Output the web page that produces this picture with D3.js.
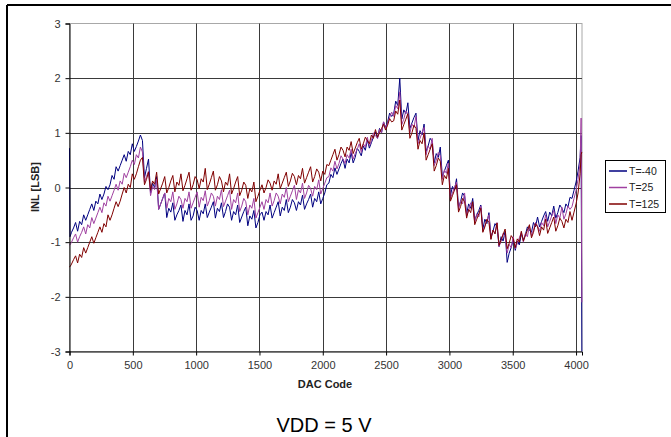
<!DOCTYPE html>
<html><head><meta charset="utf-8">
<script src="https://cdn.jsdelivr.net/npm/d3@7"></script>
<style>body{margin:0;background:#fff}svg{display:block}text{font-family:"Liberation Sans",Arial,sans-serif}</style>
</head><body><svg id="c" width="671" height="437"></svg>
<script>
const codes = [0,4,16,32,48,64,80,96,112,128,144,160,176,192,208,224,240,256,272,288,304,320,336,352,368,384,400,416,432,448,464,480,496,512,528,544,560,576,592,608,624,640,656,672,688,704,720,736,752,768,784,800,816,832,848,864,880,896,912,928,944,960,976,992,1008,1024,1040,1056,1072,1088,1104,1120,1136,1152,1168,1184,1200,1216,1232,1248,1264,1280,1296,1312,1328,1344,1360,1376,1392,1408,1424,1440,1456,1472,1488,1504,1520,1536,1552,1568,1584,1600,1616,1632,1648,1664,1680,1696,1712,1728,1744,1760,1776,1792,1808,1824,1840,1856,1872,1888,1904,1920,1936,1952,1968,1984,2000,2016,2032,2048,2064,2080,2096,2112,2128,2144,2160,2176,2192,2208,2224,2240,2256,2272,2288,2304,2320,2336,2352,2368,2384,2400,2416,2432,2448,2464,2480,2496,2512,2528,2544,2560,2576,2592,2608,2624,2640,2656,2672,2688,2704,2720,2736,2752,2768,2784,2800,2816,2832,2848,2864,2880,2896,2912,2928,2944,2960,2976,2992,3008,3024,3040,3056,3072,3088,3104,3120,3136,3152,3168,3184,3200,3216,3232,3248,3264,3280,3296,3312,3328,3344,3360,3376,3392,3408,3424,3440,3456,3472,3488,3504,3520,3536,3552,3568,3584,3600,3616,3632,3648,3664,3680,3696,3712,3728,3744,3760,3776,3792,3808,3824,3840,3856,3872,3888,3904,3920,3936,3952,3968,3984,4000,4016,4032,4040,4046];
const tMinus40 = [0.72,-0.9,
-0.82,-0.74,-0.64,
-0.8,-0.62,-0.68,-0.5,
-0.6,-0.5,-0.4,-0.3,
-0.42,-0.25,-0.3,-0.12,
-0.22,-0.12,0.02,-0.04,
0.05,0.22,0.15,0.38,
0.3,0.4,0.5,0.6,
0.48,0.66,0.6,0.8,
0.66,0.75,0.85,0.96,
0.86,0.18,0.35,0.52,
-0.1,0.08,0.0,0.2,
-0.4,-0.3,-0.2,-0.1,
-0.55,-0.38,-0.45,-0.28,
-0.6,-0.5,-0.42,-0.32,
-0.62,-0.42,-0.5,-0.3,
-0.6,-0.52,-0.36,-0.42,
-0.6,-0.42,-0.48,-0.3,
-0.55,-0.45,-0.36,-0.26,
-0.56,-0.38,-0.44,-0.28,
-0.55,-0.44,-0.3,-0.36,
-0.6,-0.44,-0.5,-0.32,
-0.64,-0.54,-0.44,-0.36,
-0.7,-0.52,-0.58,-0.42,
-0.74,-0.64,-0.5,-0.45,
-0.6,-0.44,-0.5,-0.32,
-0.56,-0.46,-0.36,-0.26,
-0.52,-0.36,-0.42,-0.22,
-0.46,-0.36,-0.22,-0.28,
-0.42,-0.26,-0.32,-0.14,
-0.4,-0.3,-0.22,-0.12,
-0.36,-0.2,-0.26,-0.08,
-0.3,-0.2,-0.1,0.05,
0.08,0.24,0.18,0.36,
0.24,0.34,0.44,0.52,
0.35,0.52,0.45,0.64,
0.45,0.55,0.72,0.66,
0.58,0.76,0.68,0.87,
0.72,0.82,0.92,1.02,
0.9,1.08,1.0,1.2,
1.1,1.2,1.36,1.3,
1.35,1.58,1.5,2.0,
1.25,1.42,1.35,1.55,
1.08,1.18,1.28,1.36,
0.86,1.04,0.96,1.16,
0.66,0.76,0.9,0.84,
0.45,0.62,0.55,0.74,
0.2,0.3,0.4,0.5,
-0.15,0.02,-0.05,0.16,
-0.36,-0.26,-0.1,-0.16,
-0.48,-0.3,-0.38,-0.2,
-0.6,-0.5,-0.42,-0.32,
-0.76,-0.58,-0.66,-0.46,
-0.9,-0.8,-0.66,-0.72,
-1.08,-0.9,-0.98,-0.8,
-1.37,-1.2,-1.1,-0.95,
-1.15,-0.98,-1.05,-0.85,
-0.96,-0.86,-0.72,-0.78,
-0.82,-0.64,-0.72,-0.54,
-0.72,-0.62,-0.52,-0.44,
-0.62,-0.45,-0.52,-0.34,
-0.56,-0.46,-0.32,-0.38,
-0.46,-0.3,-0.36,-0.18,
-0.2,-0.05,0.1,0.3,
0.55,0.95,-3.0];
const t25 = [-1.05,-1.05,
-1.0,-0.92,-0.85,
-1.0,-0.9,-0.82,-0.72,
-0.85,-0.68,-0.74,-0.55,
-0.66,-0.56,-0.46,-0.36,
-0.46,-0.28,-0.34,-0.16,
-0.25,-0.15,-0.05,0.06,
-0.05,0.12,0.06,0.26,
0.18,0.28,0.38,0.5,
0.42,0.6,0.54,0.74,
0.65,0.1,0.2,0.3,
-0.15,0.02,-0.04,0.15,
-0.4,-0.3,-0.2,-0.1,
-0.38,-0.2,-0.26,-0.08,
-0.4,-0.3,-0.16,-0.22,
-0.38,-0.2,-0.26,-0.08,
-0.38,-0.28,-0.18,-0.08,
-0.36,-0.18,-0.24,-0.06,
-0.34,-0.24,-0.1,-0.16,
-0.34,-0.16,-0.22,-0.04,
-0.35,-0.25,-0.15,-0.05,
-0.4,-0.22,-0.28,-0.1,
-0.44,-0.34,-0.2,-0.26,
-0.5,-0.32,-0.38,-0.2,
-0.56,-0.46,-0.36,-0.26,
-0.4,-0.22,-0.28,-0.1,
-0.34,-0.24,-0.1,-0.16,
-0.3,-0.12,-0.18,0.0,
-0.26,-0.16,-0.06,0.04,
-0.22,-0.04,-0.1,0.08,
-0.2,-0.1,0.04,-0.02,
-0.16,0.02,-0.04,0.14,
-0.12,-0.02,0.08,0.18,
0.2,0.36,0.3,0.48,
0.34,0.44,0.58,0.52,
0.44,0.6,0.54,0.7,
0.52,0.62,0.7,0.8,
0.64,0.8,0.74,0.92,
0.76,0.86,1.0,0.95,
0.9,1.06,1.0,1.2,
1.08,1.18,1.28,1.38,
1.3,1.5,1.44,1.75,
1.15,1.25,1.4,1.35,
1.0,1.16,1.1,1.3,
0.8,0.9,1.0,1.1,
0.6,0.76,0.7,0.9,
0.4,0.5,0.64,0.58,
0.15,0.32,0.26,0.45,
-0.2,-0.1,0.0,0.1,
-0.4,-0.24,-0.3,-0.1,
-0.52,-0.42,-0.28,-0.34,
-0.64,-0.48,-0.54,-0.34,
-0.8,-0.7,-0.6,-0.5,
-0.94,-0.78,-0.84,-0.64,
-1.08,-0.98,-0.84,-0.9,
-1.2,-1.04,-1.1,-0.9,
-1.12,-1.02,-0.92,-0.82,
-1.0,-0.84,-0.9,-0.7,
-0.88,-0.78,-0.64,-0.7,
-0.8,-0.64,-0.7,-0.5,
-0.72,-0.62,-0.52,-0.42,
-0.66,-0.5,-0.56,-0.36,
-0.58,-0.48,-0.34,-0.4,
-0.35,-0.2,-0.05,0.15,
0.45,1.27,-2.1];
const t125 = [-1.45,-1.45,
-1.4,-1.32,-1.25,
-1.38,-1.22,-1.28,-1.1,
-1.2,-1.1,-1.0,-0.9,
-1.02,-0.92,-0.82,-0.72,
-0.82,-0.66,-0.72,-0.5,
-0.6,-0.5,-0.38,-0.26,
-0.35,-0.25,-0.12,0.0,
-0.1,0.06,0.0,0.25,
0.15,0.25,0.38,0.5,
0.55,0.05,0.15,0.28,
-0.05,0.12,0.06,0.28,
-0.12,-0.02,0.08,0.2,
-0.1,0.0,0.12,0.22,
-0.08,0.1,0.04,0.25,
-0.06,0.04,0.16,0.28,
-0.05,0.05,0.2,0.14,
-0.02,0.16,0.1,0.35,
-0.04,0.06,0.18,0.3,
-0.05,0.05,0.2,0.12,
-0.08,0.1,0.04,0.25,
-0.12,-0.02,0.1,0.2,
-0.15,-0.05,0.1,0.04,
-0.2,-0.02,-0.08,0.1,
-0.26,-0.16,-0.05,0.05,
-0.1,0.0,0.14,0.08,
-0.05,0.12,0.06,0.25,
-0.02,0.08,0.18,0.28,
0.02,0.12,0.26,0.2,
0.05,0.22,0.16,0.35,
0.08,0.18,0.28,0.38,
0.1,0.2,0.34,0.28,
0.12,0.3,0.24,0.42,
0.4,0.5,0.6,0.7,
0.5,0.6,0.74,0.68,
0.56,0.74,0.68,0.84,
0.62,0.72,0.82,0.9,
0.7,0.8,0.92,0.86,
0.8,0.96,0.9,1.06,
0.92,1.0,1.08,1.16,
1.05,1.14,1.26,1.2,
1.22,1.4,1.34,1.6,
1.05,1.15,1.25,1.35,
0.9,1.0,1.14,1.08,
0.7,0.86,0.8,1.0,
0.5,0.6,0.7,0.8,
0.3,0.4,0.54,0.48,
0.05,0.22,0.16,0.35,
-0.25,-0.15,-0.05,0.05,
-0.45,-0.35,-0.2,-0.26,
-0.56,-0.4,-0.46,-0.26,
-0.68,-0.58,-0.48,-0.38,
-0.82,-0.72,-0.58,-0.64,
-0.95,-0.78,-0.85,-0.65,
-1.06,-0.96,-0.86,-0.76,
-1.12,-1.02,-0.88,-0.94,
-1.1,-0.94,-1.0,-0.8,
-0.98,-0.88,-0.78,-0.68,
-0.92,-0.82,-0.66,-0.72,
-0.88,-0.72,-0.78,-0.58,
-0.84,-0.74,-0.64,-0.54,
-0.8,-0.7,-0.56,-0.62,
-0.74,-0.58,-0.64,-0.44,
-0.6,-0.45,-0.3,-0.1,
0.25,0.6,0.65];
const seriesNames = ["T=-40","T=25","T=125"];
const seriesColors = ["#000080","#a040a0","#800000"];
const xTicks = [0,500,1000,1500,2000,2500,3000,3500,4000];
const yTicks = [-3,-2,-1,0,1,2,3];

const svg = d3.select("#c");
svg.append("line").attr("x1",7).attr("x2",671).attr("y1",5).attr("y2",5).attr("stroke","#000").attr("stroke-width",2);
svg.append("line").attr("x1",7).attr("x2",7).attr("y1",5).attr("y2",437).attr("stroke","#000").attr("stroke-width",2);

const L=69.5, R=582, T=23.5, B=351.5;
const x = d3.scaleLinear().domain([0,4047]).range([L,R]);
const y = d3.scaleLinear().domain([-3,3]).range([B,T]);

svg.append("rect").attr("x",L).attr("y",T).attr("width",R-L).attr("height",B-T).attr("fill","none").attr("stroke","#a8a8a8");
svg.append("g").selectAll("line").data(yTicks.filter(d=>d>-3&&d<3)).join("line")
  .attr("x1",L).attr("x2",R).attr("y1",d=>Math.round(y(d))+0.5).attr("y2",d=>Math.round(y(d))+0.5).attr("stroke","#3a3a3a");
svg.append("g").selectAll("line").data(xTicks.filter(d=>d>0)).join("line")
  .attr("y1",T).attr("y2",B).attr("x1",d=>Math.round(x(d))+0.5).attr("x2",d=>Math.round(x(d))+0.5).attr("stroke","#3a3a3a");

const n = codes.length;
const line = d3.line().x((d,i)=>x(codes[i])).y(d=>y(d));
[tMinus40,t25,t125].forEach((s,k)=>{
  svg.append("path").datum(s.slice(0,n)).attr("d",line).attr("fill","none").attr("stroke",seriesColors[k]).attr("stroke-width",1);
});

const xa = svg.append("g").attr("transform",`translate(0,${B})`).call(d3.axisBottom(x).tickValues(xTicks).tickSize(4).tickPadding(6).tickFormat(d3.format("d")));
const ya = svg.append("g").attr("transform",`translate(${L},0)`).call(d3.axisLeft(y).tickValues(yTicks).tickSize(4).tickPadding(5).tickFormat(d=>d));
[xa,ya].forEach(a=>{a.select(".domain").attr("stroke","#000");a.selectAll(".tick line").attr("stroke","#000");
  a.selectAll("text").attr("font-family","'Liberation Sans',Arial,sans-serif").attr("font-size",11).attr("fill","#333");});

svg.append("text").attr("x",325).attr("y",388).attr("text-anchor","middle").attr("font-size",11).attr("font-weight","bold").attr("fill","#222").text("DAC Code");
svg.append("text").attr("transform","translate(39,187) rotate(-90)").attr("text-anchor","middle").attr("font-size",11).attr("font-weight","bold").attr("fill","#222").text("INL [LSB]");
svg.append("text").attr("x",324).attr("y",432).attr("text-anchor","middle").attr("font-size",20).attr("fill","#000").text("VDD = 5 V");

const lg = svg.append("g");
lg.append("rect").attr("x",605.5).attr("y",160.5).attr("width",60).attr("height",52).attr("fill","#fff").attr("stroke","#000");
seriesNames.forEach((nm,k)=>{
  const yy = 171 + k*16.5;
  lg.append("line").attr("x1",609).attr("x2",627).attr("y1",yy).attr("y2",yy).attr("stroke",seriesColors[k]).attr("stroke-width",1.5);
  lg.append("text").attr("x",629).attr("y",yy+3.5).attr("font-size",10.5).attr("fill","#222").text(nm);
});
</script></body></html>
